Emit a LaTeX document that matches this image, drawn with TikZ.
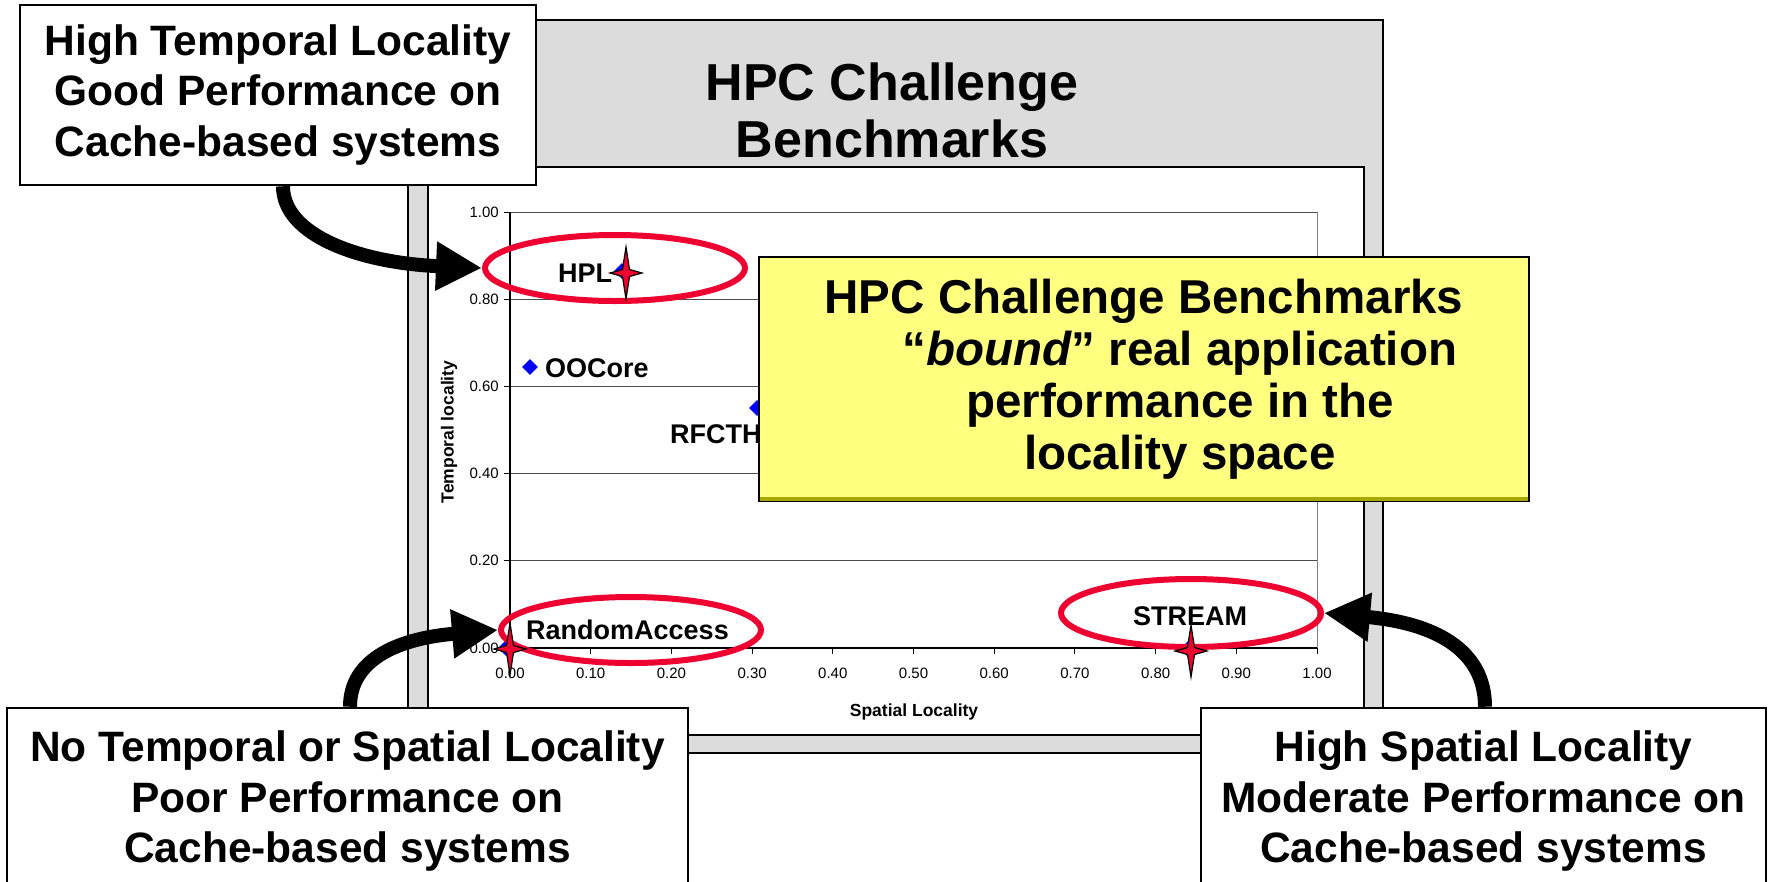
\documentclass[tikz,border=0pt]{standalone}
\usepackage{fontspec}
\setmainfont{Liberation Sans}
\usetikzlibrary{arrows.meta,shapes.geometric}

\definecolor{panelgray}{HTML}{DCDCDC}
\definecolor{ringred}{RGB}{238,0,48}
\definecolor{noteyellow}{HTML}{FFFF80}
\definecolor{noteshade}{HTML}{A8A800}

\begin{document}
\begin{tikzpicture}[x=1pt,y=-1pt,
  box/.style={draw=black,line width=2.5pt,fill=white,align=center,inner sep=0pt,
              font=\fontsize{42.5}{50.5}\selectfont\bfseries},
  ring/.style={ellipse,draw=ringred,line width=6pt,minimum width=260pt,
               minimum height=66pt,inner sep=0pt},
  dot/.style={diamond,fill=blue,inner sep=0pt,minimum width=16pt,minimum height=16pt},
  ptlabel/.style={font=\fontsize{27}{30}\selectfont\bfseries,inner sep=0pt},
  ticklbl/.style={font=\fontsize{15}{18}\selectfont,inner sep=0pt},
  axtitle/.style={font=\fontsize{17.5}{20}\selectfont\bfseries,inner sep=0pt},
  gridline/.style={draw=black!70,line width=1pt},
  bigarrow/.style={line width=14pt,-{Triangle[length=46pt,width=46pt]}},
  sparkle/.pic={\filldraw[fill=ringred,draw=black,line width=1.2pt]
      (0,-26) -- (3.5,-3.5) -- (16,0) -- (3.5,3.5) -- (0,26)
      -- (-3.5,3.5) -- (-16,0) -- (-3.5,-3.5) -- cycle;}
]
\useasboundingbox (0,0) rectangle (1768,881);
\clip (0,0) rectangle (1768,881);

% framed chart panel
\draw[line width=2.5pt,fill=panelgray] (408,20) rectangle (1383,753);
\draw[line width=1.5pt,fill=white] (428,167) rectangle (1364,735);
\node[font=\fontsize{52}{57}\selectfont\bfseries,align=center,inner sep=0pt]
  (title) at (892,110) {HPC Challenge\\Benchmarks};

% grid, axes and ticks
\foreach \v in {0.2,0.4,0.6,0.8,1.0}
  \draw[gridline] (510,{648-436*\v}) -- (1317,{648-436*\v});
\draw[draw=black!50,line width=1pt] (1317,212) -- (1317,648);
\draw[line width=1.2pt] (510,212) -- (510,648) -- (1317,648);
\foreach \v/\t in {0/0.00,0.2/0.20,0.4/0.40,0.6/0.60,0.8/0.80,1.0/1.00}{
  \draw[line width=1pt] (504,{648-436*\v}) -- (510,{648-436*\v});
  \node[ticklbl,anchor=east] at (499,{648-436*\v}) {\t};
}
\foreach \i/\t in {0/0.00,1/0.10,2/0.20,3/0.30,4/0.40,5/0.50,6/0.60,7/0.70,8/0.80,9/0.90,10/1.00}{
  \draw[line width=1pt] ({510+80.7*\i},648) -- ({510+80.7*\i},654);
  \node[ticklbl,anchor=north] at ({510+80.7*\i},668) {\t};
}
\node[axtitle] (xtitle) at (914,712) {Spatial Locality};
\node[axtitle,rotate=90] (ytitle) at (449,432) {Temporal locality};

% data points
\node[dot] (oocore) at (530,367) {};
\node[dot] (rfcth) at (757,408) {};
\node[dot] (hpldot) at (622,271) {};
\node[dot] (radot) at (506,648) {};
\node[dot] (streamdot) at (1188,649) {};
\node[ptlabel,anchor=base west] (oolbl) at (545,377) {OOCore};
\node[ptlabel,anchor=base west] (rflbl) at (670,443) {RFCTH};
\node[ptlabel,anchor=base west] (hpllbl) at (558,282) {HPL};
\node[ptlabel,anchor=base west] (ralbl) at (526,639) {RandomAccess};
\node[ptlabel,anchor=base west] (stlbl) at (1133,625) {STREAM};

% highlighted benchmarks
\node[ring] (hplring) at (615,268) {};
\node[ring] (raring) at (631,630) {};
\node[ring,minimum height=68pt] (string) at (1191,613) {};
\pic at (626,273) {sparkle};
\pic at (510,649) {sparkle};
\pic at (1191,651) {sparkle};

% yellow note
\node[draw=black,line width=2pt,fill=noteyellow,minimum width=770pt,minimum height=244pt,
      inner sep=0pt,align=center,font=\fontsize{47.5}{52}\selectfont\bfseries]
  (note) at (1144,379)
  {HPC Challenge Benchmarks\\
   \hspace*{72pt}“{\itshape bound}” real application\\
   \hspace*{72pt}performance in the\\
   \hspace*{72pt}locality space};
\draw[noteshade,line width=4pt] ([shift={(2,-3.5)}]note.south west) -- ([shift={(-2,-3.5)}]note.south east);

% explanation boxes
\node[box,minimum width=516pt,minimum height=180pt] (tl) at (278,95)
  {High Temporal Locality\\Good Performance on\\Cache-based systems};
\node[box,minimum width=681pt,minimum height=186pt] (bl) at (347.5,801)
  {No Temporal or Spatial Locality\\Poor Performance on\\Cache-based systems};
\node[box,minimum width=565pt,minimum height=186pt] (br) at (1483.5,801)
  {High Spatial Locality\\Moderate Performance on\\Cache-based systems};

% pointers
\draw[bigarrow] ([xshift=5pt]tl.south) .. controls +(0,50) and +(-120,-5) .. (hplring.west);
\draw[bigarrow] ([xshift=2.5pt]bl.north) .. controls +(0,-50) and +(-95,8) .. (raring.west);
\draw[bigarrow] ([xshift=1.5pt]br.north) .. controls +(0,-58) and +(109,10) .. (string.east);
\end{tikzpicture}
\end{document}
